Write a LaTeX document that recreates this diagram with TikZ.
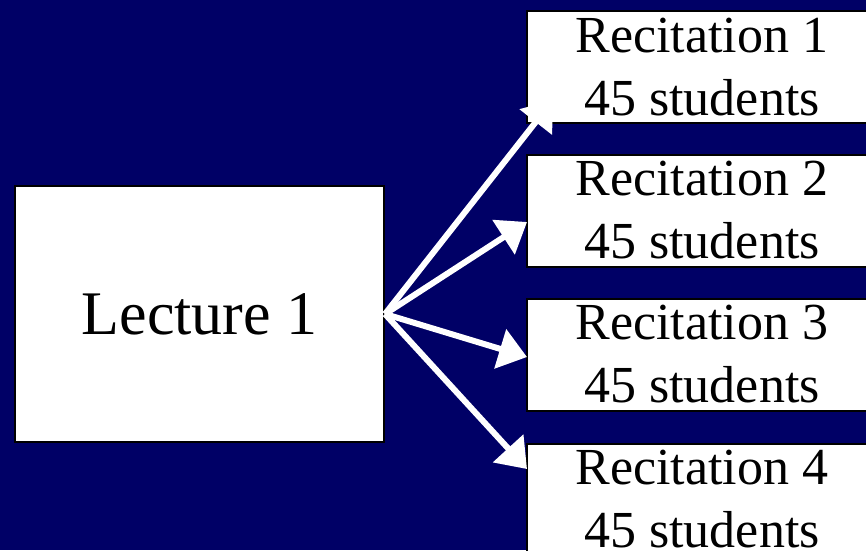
\documentclass[tikz,border=0pt]{standalone}
\usepackage{fontspec}
\setmainfont{Liberation Serif}
\newfontfamily\slidefont{Liberation Serif}
\usetikzlibrary{arrows.meta}
\definecolor{slidenavy}{RGB}{0,0,102}

\begin{document}
\begin{tikzpicture}[
        x=1pt, y=-1pt,
        every node/.style={draw=black,line width=2pt,fill=white,inner sep=0pt,align=center},
        lecbox/.style={minimum width=369pt,minimum height=256pt,font=\slidefont\fontsize{62}{74}\selectfont},
        recbox/.style={minimum width=350pt,minimum height=112pt,font=\slidefont\fontsize{52}{63}\selectfont},
        feed/.style={draw=white,line width=6pt,-{Triangle[length=28pt,width=40pt]}},
    ]
    \fill[slidenavy] (0,0) rectangle (866,550);
    \clip (0,0) rectangle (866,550);
    \node[lecbox] (lec) at (199.5,314) {Lecture 1};
    \node[recbox] (rec1) at (702,67) {Recitation 1\\45 students};
    \node[recbox] (rec2) at (702,210.5) {Recitation 2\\45 students};
    \node[recbox] (rec3) at (702,354.5) {Recitation 3\\45 students};
    \node[recbox] (rec4) at (702,499.5) {Recitation 4\\45 students};
    \coordinate (tip1) at (553,100);
    \coordinate (tip2) at (527,222);
    \coordinate (tip3) at (527,357);
    \coordinate (tip4) at (527,469);
    \foreach \i in {1,...,4}
      \draw[feed] (lec.east) -- (tip\i);
    \end{tikzpicture}
\end{document}
